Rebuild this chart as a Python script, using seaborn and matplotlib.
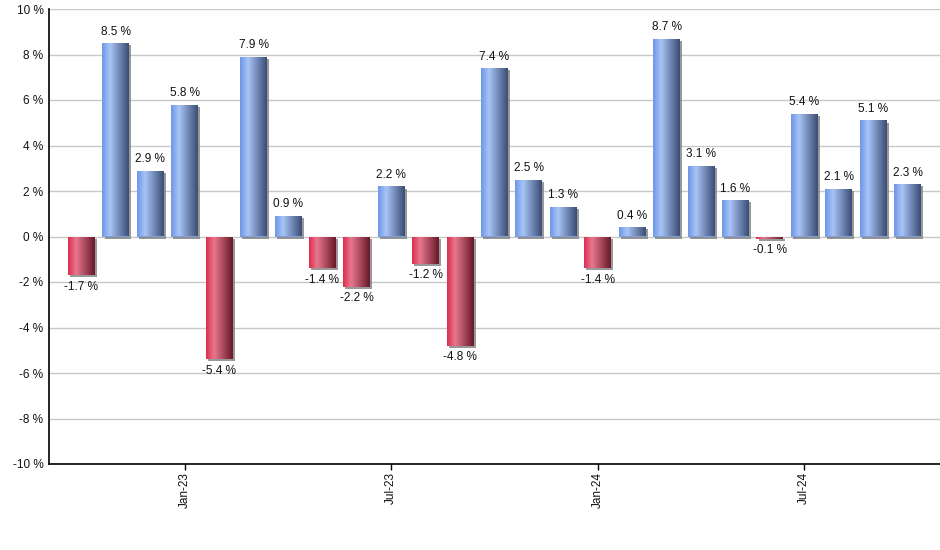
import numpy as np
import pandas as pd
import matplotlib
matplotlib.use("Agg")
import matplotlib.pyplot as plt
import matplotlib.patheffects as pe
from matplotlib.colors import LinearSegmentedColormap
import seaborn as sns

months = ["Oct-22", "Nov-22", "Dec-22", "Jan-23", "Feb-23", "Mar-23", "Apr-23", "May-23",
          "Jun-23", "Jul-23", "Aug-23", "Sep-23", "Oct-23", "Nov-23", "Dec-23", "Jan-24",
          "Feb-24", "Mar-24", "Apr-24", "May-24", "Jun-24", "Jul-24", "Aug-24", "Sep-24", "Oct-24"]
returns = [-1.7, 8.5, 2.9, 5.8, -5.4, 7.9, 0.9, -1.4, -2.2, 2.2, -1.2, -4.8, 7.4, 2.5, 1.3,
           -1.4, 0.4, 8.7, 3.1, 1.6, -0.1, 5.4, 2.1, 5.1, 2.3]
shown_ticks = ["Jan-23", "Jul-23", "Jan-24", "Jul-24"]
y_ticks = [-10, -8, -6, -4, -2, 0, 2, 4, 6, 8, 10]

df = pd.DataFrame({"month": months, "ret": returns})
df["sign"] = np.where(df["ret"] >= 0, "pos", "neg")

sns.set_theme(style="white")
plt.rcParams["font.family"] = ["Liberation Sans", "DejaVu Sans"]

fig = plt.figure(figsize=(9.4, 5.5), dpi=100)
ax = fig.add_axes([49 / 940, 1 - 464 / 550, (940 - 49) / 940, (464 - 9) / 550])

sns.barplot(data=df, x="month", y="ret", hue="sign", order=months,
            palette={"pos": "#7d9fdf", "neg": "#c83a55"}, width=0.78,
            dodge=False, legend=False, ax=ax, saturation=1)

blue_cmap = LinearSegmentedColormap.from_list(
    "b", [(0, "#6c96e8"), (0.3, "#a9c4f6"), (1.0, "#394c72")])
red_cmap = LinearSegmentedColormap.from_list(
    "r", [(0, "#dc2c4e"), (0.3, "#e8788e"), (1.0, "#661828")])
grad = np.linspace(0, 1, 256).reshape(1, -1)

for p in ax.patches:
    h = p.get_height()
    if h == 0 and p.get_width() == 0:
        continue
    x0 = p.get_x(); w = p.get_width(); y0 = p.get_y()
    cmap = blue_cmap if h >= 0 else red_cmap
    p.set_edgecolor("none")
    p.set_path_effects([pe.SimplePatchShadow(offset=(1.5, -1.5), shadow_rgbFace="#808080", alpha=0.8),
                        pe.Normal()])
    ylo, yhi = sorted([y0, y0 + h])
    im = ax.imshow(grad, cmap=cmap, aspect="auto", extent=[x0, x0 + w, ylo, yhi],
                   zorder=p.get_zorder() + 0.1, interpolation="bicubic")
    im.set_clip_path(p)

for i, v in enumerate(returns):
    if v >= 0:
        ax.annotate(f"{v} %", (i, v), xytext=(0, 4), textcoords="offset points",
                    ha="center", va="bottom", fontsize=8.5, color="#111111")
    else:
        ax.annotate(f"{v} %", (i, v), xytext=(0, -4), textcoords="offset points",
                    ha="center", va="top", fontsize=8.5, color="#111111")

ax.set_xlim(-0.944, 24.944)
ax.set_ylim(-10, 10)
ax.set_yticks(y_ticks)
ax.set_yticklabels([f"{t} %" for t in y_ticks], fontsize=8.5, color="#111111")
ax.set_xticks([months.index(m) for m in shown_ticks])
ax.set_xticklabels(shown_ticks, rotation=90, fontsize=8.5, color="#111111")
ax.tick_params(axis="x", direction="out", length=4, width=1, color="black", bottom=True, pad=2)
ax.tick_params(axis="y", length=0, pad=4)
ax.set_xlabel("")
ax.set_ylabel("")
ax.yaxis.grid(True, color="#c8c8c8", linewidth=1)
ax.set_axisbelow(True)
for s in ["top", "right"]:
    ax.spines[s].set_visible(False)
for s in ["left", "bottom"]:
    ax.spines[s].set_color("black")
    ax.spines[s].set_linewidth(1.2)

fig.savefig("out.png", dpi=100)
